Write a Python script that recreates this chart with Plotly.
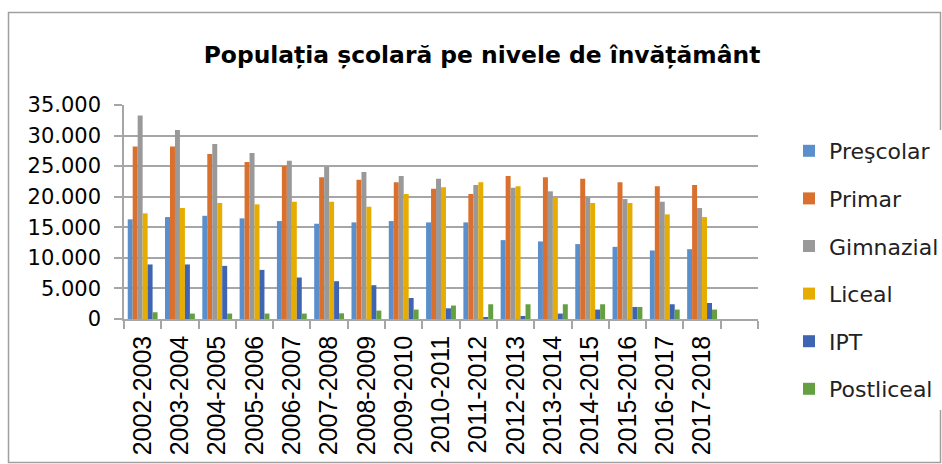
import plotly.graph_objects as go

categories = ["2002-2003", "2003-2004", "2004-2005", "2005-2006", "2006-2007",
              "2007-2008", "2008-2009", "2009-2010", "2010-2011", "2011-2012",
              "2012-2013", "2013-2014", "2014-2015", "2015-2016", "2016-2017",
              "2017-2018"]

prescolar = [16300, 16670, 16880, 16460, 16020, 15580, 15800, 16020, 15800, 15800,
             12900, 12690, 12250, 11800, 11210, 11420]
primar = [28200, 28200, 27000, 25690, 25030, 23180, 22790, 22360, 21310, 20440,
          23390, 23180, 22950, 22360, 21700, 21920]
gimnazial = [33280, 30930, 28640, 27160, 25900, 24920, 24050, 23390, 22950, 21920,
             21480, 20880, 19900, 19620, 19180, 18150]
liceal = [17280, 18150, 18970, 18750, 19180, 19180, 18360, 20440, 21540, 22360,
          21700, 19840, 18970, 18970, 17110, 16670]
ipt = [8920, 8920, 8690, 8030, 6790, 6180, 5530, 3440, 1750, 280,
       490, 890, 1540, 1970, 2410, 2620]
postliceal = [1100, 890, 890, 890, 890, 930, 1380, 1540, 2200, 2410,
              2410, 2410, 2410, 1970, 1540, 1540]

series = [
    ("Preşcolar", prescolar, "#5B8FCB"),
    ("Primar", primar, "#D9702D"),
    ("Gimnazial", gimnazial, "#999999"),
    ("Liceal", liceal, "#E6AC00"),
    ("IPT", ipt, "#3F65B2"),
    ("Postliceal", postliceal, "#64A042"),
]

y_ticks = [0, 5000, 10000, 15000, 20000, 25000, 30000, 35000]
y_tick_labels = ["0", "5.000", "10.000", "15.000", "20.000", "25.000", "30.000", "35.000"]

fig = go.Figure()
for i, (name, vals, col) in enumerate(series):
    fig.add_trace(go.Bar(x=categories, y=vals, name=name, marker_color=col,
                         marker_line_width=0, legendgroup=str(i)))

# empty trailing category slot (scatter so it does not take a bar slot)
fig.add_trace(go.Scatter(x=[" "], y=[None], mode="markers", showlegend=False,
                         hoverinfo="skip"))

L, R, T, B = 124, 184, 105, 145
W, H = 942, 464
pw, ph = W - L - R, H - T - B

def px(x):
    return (x - L) / pw

def py(y):
    return (H - B - y) / ph

fig.update_layout(
    width=W, height=H,
    margin=dict(l=L, r=R, t=T, b=B, autoexpand=False),
    paper_bgcolor="white", plot_bgcolor="white",
    barmode="group", bargap=0.2, bargroupgap=0,
    title=dict(text="Populația școlară pe nivele de învățământ",
               x=482 / W, xanchor="center", y=1 - 55 / H, yanchor="middle",
               font=dict(family="DejaVu Sans", size=23.4, color="black", weight="bold")),
    legend=dict(x=789 / W, xanchor="left", xref="container",
                y=1 - 130 / H, yanchor="top", yref="container",
                maxheight=320,
                font=dict(family="DejaVu Sans", size=22, color="#222"),
                tracegroupgap=16, traceorder="grouped", itemwidth=30),
    showlegend=True,
    shapes=[dict(type="rect", xref="paper", yref="paper",
                 x0=px(8.5), x1=px(940.5), y0=py(462.5), y1=py(12.5),
                 line=dict(color="#A0A0A0", width=1.5), layer="below")],
)

fig.update_xaxes(
    type="category", categoryorder="array", categoryarray=categories + [" "],
    range=[-0.5, 16.5], tickson="boundaries", ticks="outside", ticklen=8,
    tickcolor="#A6A6A6", tickwidth=1.5, showline=True, linecolor="#A6A6A6",
    linewidth=1.5, tickangle=-90, showgrid=False, ticklabelstandoff=5,
    tickfont=dict(family="Liberation Sans", size=25, color="black"),
    automargin=False,
)
fig.update_yaxes(
    range=[0, 35000], tickvals=y_ticks, ticktext=y_tick_labels,
    showgrid=True, gridcolor="#A6A6A6", gridwidth=1.5,
    showline=True, linecolor="#A6A6A6", linewidth=1.5,
    ticks="outside", ticklen=8, tickcolor="#A6A6A6", tickwidth=1.5,
    ticklabelstandoff=9,
    tickfont=dict(family="DejaVu Sans", size=21, color="black"),
    zeroline=False, automargin=False,
)

fig.write_html("out.html", config={"displayModeBar": False},
               post_script="document.body.style.margin='0';document.body.style.overflow='hidden';")
